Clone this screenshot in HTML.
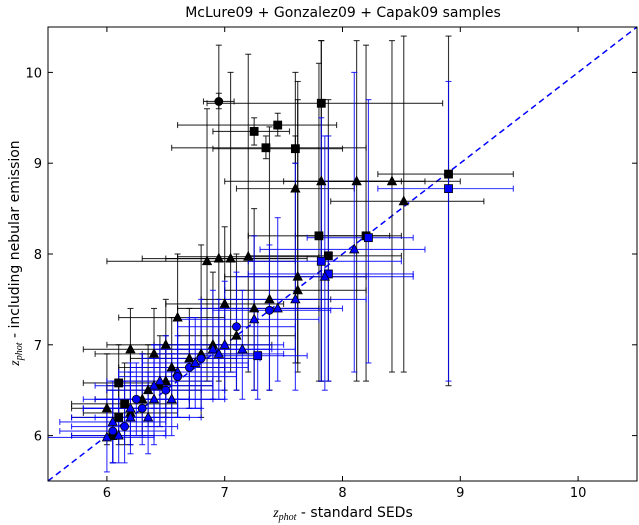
<!DOCTYPE html>
<html><head><meta charset="utf-8"><style>
body{margin:0;background:#fff;}
svg{display:block;font-family:"DejaVu Sans","Liberation Sans",sans-serif;}
</style></head><body>
<svg id="chart" width="639" height="525">
<text x="343" y="17" text-anchor="middle" font-size="14">McLure09 + Gonzalez09 + Capak09 samples</text>
<text x="343" y="517" text-anchor="middle" font-size="14"><tspan font-family="Liberation Serif" font-style="italic">z</tspan><tspan font-family="Liberation Serif" font-style="italic" font-size="10" dy="3">phot</tspan><tspan dy="-3"> - standard SEDs</tspan></text>
<text transform="translate(19,253) rotate(-90)" text-anchor="middle" font-size="14"><tspan font-family="Liberation Serif" font-style="italic">z</tspan><tspan font-family="Liberation Serif" font-style="italic" font-size="10" dy="3">phot</tspan><tspan dy="-3"> - including nebular emission</tspan></text>
<g id="marks"></g>
<g id="axes"></g>
</svg>
<script>
const xTicks=[6,7,8,9,10];
const yTicks=[6,7,8,9,10];
const zx=[6.95,7.25,7.45,7.35,7.6,7.82,8.9,7.82,8.12,8.42,8.52,7.6,7.8,8.2,7.88,6.85,6.95,7.05,7.2,7.62,7.62,7.0,7.38,6.6,7.25,6.2,6.4,6.5,6.8,6.1,6.0,6.1,6.3,6.5,6.7,6.2,6.05,6.35,7.1,6.55,6.9,6.45,6.15,
8.9,8.22,8.1,7.82,7.88,7.85,7.6,7.45,7.38,7.25,7.28,7.1,7.0,6.9,6.8,6.6,6.5,6.4,6.3,6.2,6.15,6.05,6.0,6.1,6.25,6.45,6.7,7.15,6.35,6.55,6.75,6.95,6.4,6.6,6.2,6.05];
const zy=[9.68,9.35,9.42,9.17,9.16,9.66,8.88,8.8,8.8,8.8,8.58,8.72,8.2,8.2,7.98,7.92,7.95,7.95,7.97,7.75,7.6,7.45,7.5,7.3,7.4,6.95,6.9,7.0,6.9,6.58,6.3,6.2,6.4,6.6,6.85,6.25,6.0,6.5,7.1,6.75,7.0,6.55,6.35,
8.72,8.18,8.05,7.92,7.78,7.75,7.5,7.4,7.38,7.28,6.88,7.2,7.0,6.95,6.85,6.7,6.5,6.4,6.3,6.2,6.1,6.05,5.98,6.0,6.4,6.6,6.75,6.95,6.2,6.4,6.8,6.9,6.55,6.65,6.3,6.15];
const exLo=[6.82,6.9,6.6,6.55,6.9,6.85,8.3,7.0,7.5,7.8,7.9,7.1,7.2,7.6,7.2,6.0,6.3,6.5,6.6,7.0,7.0,6.5,6.8,6.1,6.6,5.8,5.9,6.0,6.3,5.8,5.7,5.7,5.9,6.1,6.2,5.8,5.7,6.0,6.6,6.1,6.4,6.0,5.7,
8.3,7.7,7.3,7.2,7.2,7.1,7.0,6.8,6.9,6.6,6.8,6.6,6.5,6.4,6.3,6.1,6.0,5.9,5.8,5.7,5.7,5.6,5.5,5.7,5.8,6.0,6.2,6.6,5.9,6.1,6.3,6.4,5.9,6.1,5.8,5.6];
const exHi=[7.08,7.55,7.95,8.2,8.0,8.85,9.45,8.5,8.7,9.0,9.2,8.1,8.4,8.5,8.5,7.6,7.6,7.7,7.8,8.2,8.2,7.5,7.9,7.0,7.8,6.7,6.8,7.0,7.3,6.4,6.3,6.5,6.7,6.9,7.1,6.6,6.4,6.8,7.6,7.0,7.4,6.9,6.6,
9.45,8.6,8.7,8.5,8.6,8.6,8.2,8.0,7.9,7.8,7.7,7.6,7.5,7.4,7.3,7.1,7.0,6.9,6.8,6.7,6.6,6.5,6.4,6.5,6.7,6.9,7.2,7.6,6.8,7.0,7.2,7.5,6.9,7.1,6.6,6.5];
const eyLo=[9.6,9.2,9.3,9.05,9.0,6.6,6.55,6.6,6.6,6.7,6.7,6.8,6.6,6.6,6.6,6.6,6.6,6.7,6.7,6.8,6.7,6.5,6.5,6.4,6.5,6.2,6.3,6.3,6.2,6.2,5.9,5.9,6.0,6.2,6.3,5.9,5.7,6.1,6.5,6.3,6.4,6.1,5.9,
6.6,6.8,6.7,6.6,6.6,6.5,6.5,6.6,6.5,6.5,6.4,6.5,6.4,6.4,6.3,6.2,6.0,5.9,5.9,5.8,5.7,5.7,5.6,5.7,6.0,6.1,6.3,6.4,5.8,6.0,6.3,6.4,6.1,6.2,5.9,5.7];
const eyHi=[9.77,9.5,9.55,9.3,9.3,10.35,10.4,10.35,10.35,10.35,10.4,10.0,10.1,10.3,9.7,9.6,10.3,10.0,10.2,9.9,9.7,8.3,9.4,8.0,8.5,7.4,7.4,7.5,8.1,7.0,6.9,6.6,6.9,7.1,7.4,6.7,6.4,7.0,8.0,7.3,7.8,7.1,6.8,
9.9,9.7,10.0,9.5,9.3,9.3,9.0,8.4,8.1,8.2,7.4,7.8,7.7,7.6,7.5,7.3,7.1,7.0,6.9,6.7,6.6,6.5,6.4,6.4,6.8,7.0,7.3,7.6,6.7,6.9,7.3,7.5,7.0,7.1,6.8,6.6];
const mk=["o","s","s","s","s","s","s","^","^","^","^","^","s","s","s","^","^","^","^","^","^","^","^","^","^","^","^","^","^","s","^","s","^","^","^","^","s","^","^","^","^","^","s",
"s","s","^","s","s","^","^","^","o","^","s","o","^","^","o","^","o","^","o","^","o","o","^","^","o","^","o","^","^","^","^","^","^","o","^","^"];
const col=Array(43).fill("k").concat(Array(36).fill("b"));

const L=48,R=637,T=27,B=481,x0=5.5,x1=10.5,y0=5.5,y1=10.5;
const X=v=>L+(v-x0)/(x1-x0)*(R-L);
const Y=v=>B-(v-y0)/(y1-y0)*(B-T);
const NS="http://www.w3.org/2000/svg";
function mkEl(t,a,p){const e=document.createElementNS(NS,t);for(const k in a)e.setAttribute(k,a[k]);p.appendChild(e);return e;}
const marks=document.getElementById('marks');
const axes=document.getElementById('axes');
const diag=mkEl('line',{x1:X(5.5),y1:Y(5.5),x2:X(10.5),y2:Y(10.5),stroke:'#0000ff','stroke-width':1.5,'stroke-dasharray':'6,4'},marks);


for(let i=0;i<zx.length;i++){
  const c=col[i]==="k"?"#000":"#0000ff";
  const g=mkEl('g',{},marks);
  
  
  const xa=X(exLo[i]),xb=X(exHi[i]),yy=Y(zy[i]),xx=X(zx[i]),ya=Y(eyLo[i]),yb=Y(eyHi[i]);
  const st={stroke:c,'stroke-width':1.1,'stroke-opacity':0.8};
  mkEl('line',Object.assign({x1:xa,y1:yy,x2:xb,y2:yy},st),g);
  mkEl('line',Object.assign({x1:xa,y1:yy-3,x2:xa,y2:yy+3},st),g);
  mkEl('line',Object.assign({x1:xb,y1:yy-3,x2:xb,y2:yy+3},st),g);
  mkEl('line',Object.assign({x1:xx,y1:ya,x2:xx,y2:yb},st),g);
  mkEl('line',Object.assign({x1:xx-3,y1:ya,x2:xx+3,y2:ya},st),g);
  mkEl('line',Object.assign({x1:xx-3,y1:yb,x2:xx+3,y2:yb},st),g);
}
for(let i=0;i<zx.length;i++){
  const c=col[i]==="k"?"#000":"#0000ff";
  const xx=X(zx[i]),yy=Y(zy[i]);let m;
  const a={fill:c,stroke:'#000','stroke-width':0.8};
  if(mk[i]==="o") m=mkEl('circle',Object.assign({cx:xx,cy:yy,r:4},a),marks);
  else if(mk[i]==="s") m=mkEl('rect',Object.assign({x:xx-4,y:yy-4,width:8,height:8},a),marks);
  else m=mkEl('polygon',Object.assign({points:`${xx},${yy-5} ${xx-4.5},${yy+3.5} ${xx+4.5},${yy+3.5}`},a),marks);
  
  
}
const frame=mkEl('rect',{x:L,y:T,width:R-L,height:B-T,fill:'none',stroke:'#000','stroke-width':1},axes);


xTicks.forEach(v=>{
  const x=X(v);
  mkEl('line',{x1:x,y1:B,x2:x,y2:B-5,stroke:'#000'},axes);
  mkEl('line',{x1:x,y1:T,x2:x,y2:T+5,stroke:'#000'},axes);
  const t=mkEl('text',{x:x,y:B+16,'text-anchor':'middle','font-size':13},axes);
  t.textContent=v;
  
  
});
yTicks.forEach(v=>{
  const y=Y(v);
  mkEl('line',{x1:L,y1:y,x2:L+5,y2:y,stroke:'#000'},axes);
  mkEl('line',{x1:R,y1:y,x2:R-5,y2:y,stroke:'#000'},axes);
  const t=mkEl('text',{x:L-6,y:y+5,'text-anchor':'end','font-size':13},axes);
  t.textContent=v;
  
  
});
</script>
</body></html>
